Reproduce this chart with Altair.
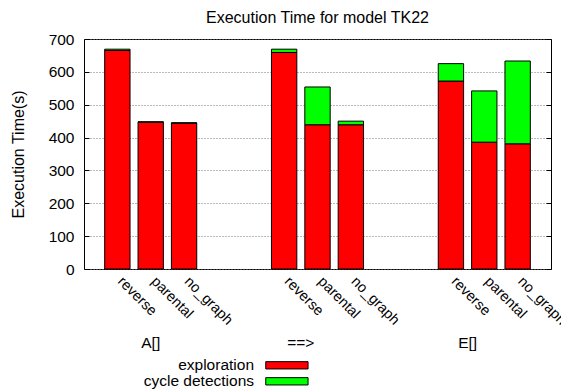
import altair as alt
import pandas as pd

groups = ["A[]", "==>", "E[]"]
categories = ["reverse", "parental", "no_graph"]
series = ["exploration", "cycle detections"]
colors = ["#ff0000", "#00ff00"]

exploration = [665, 447, 444, 659, 439, 439, 572, 386, 381]
cycle = [4, 1, 1, 10, 115, 11, 53, 156, 252]
yticks = [0, 100, 200, 300, 400, 500, 600, 700]

FONT = "Liberation Sans"
FS = 15.5
BW = 0.38  # half bar width in slot units

rows = []
positions = []
for gi, g in enumerate(groups):
    for ci, c in enumerate(categories):
        i = gi * 3 + ci
        pos = gi * 5 + ci + 1
        positions.append(pos)
        rows.append({"group": g, "cat": c, "pos": pos, "series": series[0],
                     "order": 0, "y0": 0, "y1": exploration[i]})
        rows.append({"group": g, "cat": c, "pos": pos, "series": series[1],
                     "order": 1, "y0": exploration[i],
                     "y1": exploration[i] + cycle[i]})
df = pd.DataFrame(rows)

label_expr = " : ".join(
    [f"datum.value % 5 == {ci + 1} ? '{c}'" for ci, c in enumerate(categories[:-1])]
    + [f"'{categories[-1]}'"]
)

xscale = alt.Scale(domain=[0, 14], nice=False, zero=False)
yscale = alt.Scale(domain=[0, 700], nice=False)
cscale = alt.Scale(domain=series, range=colors)

bars = alt.Chart(df).transform_calculate(
    xa=f"datum.pos - {BW}", xb=f"datum.pos + {BW}"
).mark_rect(stroke="black", strokeWidth=1).encode(
    x=alt.X("xa:Q", scale=xscale,
            axis=alt.Axis(values=positions, labelExpr=label_expr, labelAngle=45,
                          labelAlign="left", labelBaseline="top", labelPadding=5,
                          labelOffset=7, labelOverlap=False, labelBound=False,
                          labelFlush=False,
                          ticks=False, grid=False, domain=False, title=None,
                          labelFont=FONT, labelFontSize=14.5, labelColor="black")),
    x2="xb:Q",
    y=alt.Y("y0:Q", scale=yscale,
            axis=alt.Axis(values=yticks,
                          title="Execution Time(s)", titleFont=FONT,
                          titleFontSize=16, titleFontWeight="normal",
                          titleColor="black", titlePadding=22,
                          labelFont=FONT, labelFontSize=FS, labelColor="black",
                          labelPadding=10, ticks=False, domain=False,
                          grid=True, gridDash=[1, 2], gridColor="#777777",
                          gridWidth=1)),
    y2="y1:Q",
    fill=alt.Fill("series:N", scale=cscale, legend=None),
    order=alt.Order("order:Q"),
)

def tick_layer(orient):
    return alt.Chart(df).mark_rule(opacity=0).encode(
        y=alt.Y("y1:Q", scale=yscale,
                axis=alt.Axis(orient=orient, offset=-5, values=yticks,
                              labels=False, domain=False, grid=False,
                              ticks=True, tickSize=5, tickColor="black",
                              tickWidth=1, title=None)),
    )

gdf = pd.DataFrame({
    "group": groups,
    "gpos": [gi * 5 + 2 - (0.5 if gi else 0) for gi in range(len(groups))],
})
glabels = alt.Chart(gdf).mark_text(font=FONT, fontSize=FS,
                                   baseline="middle", color="black").encode(
    x=alt.X("gpos:Q", scale=xscale),
    y=alt.value(303.5),
    text="group:N",
)

ldf = pd.DataFrame({"series": series})
lscale = alt.Scale(type="point", domain=series, range=[326.3, 342.3], padding=0)
lsym = alt.Chart(ldf).mark_point(shape="M-1,-0.173H1V0.173H-1Z", size=1789,
                                 filled=True, opacity=1, stroke="black",
                                 strokeWidth=1).encode(
    x=alt.value(202.9),
    y=alt.Y("series:N", scale=lscale, axis=None),
    fill=alt.Fill("series:N", scale=cscale, legend=None),
)
ltext = alt.Chart(ldf).mark_text(font=FONT, fontSize=FS, align="right",
                                 baseline="middle", color="black").encode(
    x=alt.value(170),
    y=alt.Y("series:N", scale=lscale, axis=None),
    text="series:N",
)

chart = alt.layer(bars, tick_layer("left"), tick_layer("right"),
                  glabels, lsym, ltext).resolve_scale(
    y="independent"
).properties(
    width=467, height=230,
    title=alt.TitleParams("Execution Time for model TK22", font=FONT,
                          fontSize=16, fontWeight="normal", color="black",
                          anchor="middle", baseline="bottom", offset=4, dy=14),
    autosize=alt.AutoSizeParams(type="none"),
    padding={"left": 76, "top": 31, "right": 10, "bottom": 121},
).configure_view(stroke="black", strokeWidth=1)

chart.save("out.html", embed_options={"renderer": "svg", "actions": False})
